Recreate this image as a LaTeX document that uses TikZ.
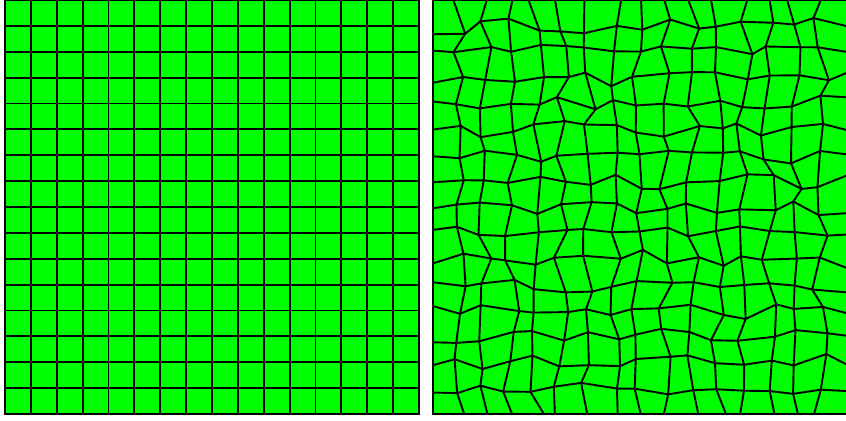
\documentclass[tikz,border=0pt]{standalone}
\definecolor{meshgreen}{RGB}{0,255,0}
\tikzset{
  meshline/.style={black, line width=2.1pt, line join=round},
  meshframe/.style={black, line width=3pt}
}
\begin{document}
\begin{tikzpicture}
  % one unit = one cell of the mesh
  \useasboundingbox (0,0) rectangle (32.696,16.27);

  % regular mesh on the left
  \fill[meshgreen] (0.193,0.27) rectangle (16.193,16.27);
  \foreach \k in {1,...,15} {
    \draw[meshline] (0.193+\k,0.27) -- (0.193+\k,16.27);
    \draw[meshline] (0.193,0.27+\k) -- (16.193,0.27+\k);
  }
  \draw[meshframe] (0.193,0.27) rectangle (16.193,16.27);

  % perturbed mesh on the right
  \pgfmathsetseed{4217}
  \foreach \i in {0,...,16} {
    \foreach \j in {0,...,16} {
      \pgfmathsetmacro{\dx}{(\i>0)*(\i<16)*(0.26*rand+0.1*sin(75*\j+40*\i))}
      \pgfmathsetmacro{\dy}{(\j>0)*(\j<16)*(0.26*rand+0.1*cos(65*\i+35*\j))}
      \coordinate (m-\i-\j) at (16.73+\i+\dx, 0.27+\j+\dy);
    }
  }
  \fill[meshgreen] (16.73,0.27) rectangle (32.73,16.27);
  \foreach \i in {1,...,15} {
    \draw[meshline] (m-\i-0) \foreach \j in {1,...,16} { -- (m-\i-\j) };
    \draw[meshline] (m-0-\i) \foreach \j in {1,...,16} { -- (m-\j-\i) };
  }
  \draw[meshframe] (16.73,0.27) rectangle (32.73,16.27);
\end{tikzpicture}
\end{document}
